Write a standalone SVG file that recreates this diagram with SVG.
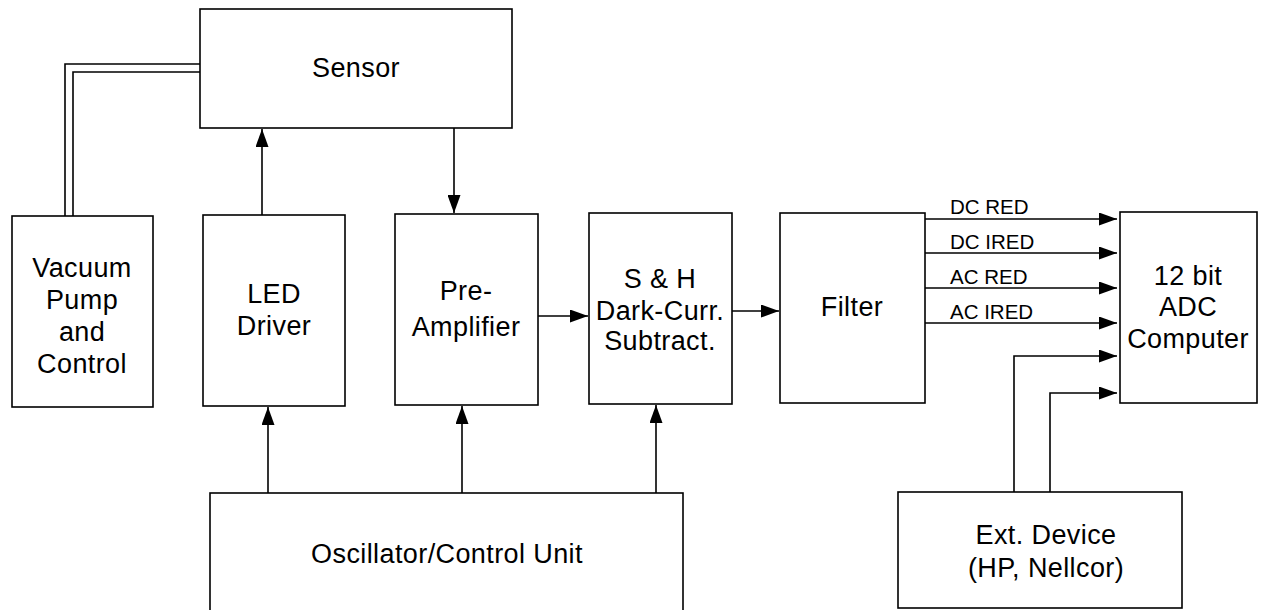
<svg xmlns="http://www.w3.org/2000/svg" width="1262" height="610" viewBox="0 0 1262 610">
<style>
.box{fill:#fff;stroke:#000;stroke-width:1.6}
.t{font-family:"Liberation Sans",Arial,sans-serif;font-size:27px;letter-spacing:0.4px;text-anchor:middle;fill:#000}
.s{font-family:"Liberation Sans",Arial,sans-serif;font-size:20.5px;fill:#000}
.ln{fill:none;stroke:#000;stroke-width:1.6}
.ar{fill:none;stroke:#000;stroke-width:1.6;marker-end:url(#ah)}
</style>
<defs>
<marker id="ah" markerUnits="userSpaceOnUse" markerWidth="18" markerHeight="13" refX="18" refY="6.5" orient="auto">
<path d="M0,0 L18,6.5 L0,13 z" fill="#000"/>
</marker>
</defs>
<rect width="1262" height="610" fill="#fff"/>
<g id="connectors">
<polyline class="ln" points="200,64 65,64 65,216"/>
<polyline class="ln" points="200,72 73,72 73,216"/>
<line class="ar" x1="262" y1="215" x2="262" y2="129"/>
<line class="ar" x1="454" y1="128" x2="454" y2="213"/>
<line class="ar" x1="538" y1="316" x2="588" y2="316"/>
<line class="ar" x1="732" y1="311" x2="779" y2="311"/>
<line class="ar" x1="268" y1="493" x2="268" y2="407"/>
<line class="ar" x1="462" y1="493" x2="462" y2="406"/>
<line class="ar" x1="656" y1="493" x2="656" y2="405"/>
<line class="ar" x1="925" y1="219" x2="1117" y2="219"/>
<line class="ar" x1="925" y1="253" x2="1117" y2="253"/>
<line class="ar" x1="925" y1="288" x2="1117" y2="288"/>
<line class="ar" x1="925" y1="323" x2="1117" y2="323"/>
<polyline class="ar" points="1014,492 1014,356 1117,356"/>
<polyline class="ar" points="1050,492 1050,393 1117,393"/>
<text class="s" x="950" y="214">DC RED</text>
<text class="s" x="950" y="249">DC IRED</text>
<text class="s" x="950" y="284">AC RED</text>
<text class="s" x="950" y="319">AC IRED</text>
</g>
<g id="sensor">
<rect class="box" x="200" y="9" width="312" height="119"/>
<text class="t" x="356" y="77">Sensor</text>
</g>
<g id="vacuum">
<rect class="box" x="12" y="216" width="141" height="191"/>
<text class="t" x="82" y="277">Vacuum</text>
<text class="t" x="82" y="309">Pump</text>
<text class="t" x="82" y="341">and</text>
<text class="t" x="82" y="373">Control</text>
</g>
<g id="led">
<rect class="box" x="203" y="215" width="142" height="191"/>
<text class="t" x="274" y="303">LED</text>
<text class="t" x="274" y="335">Driver</text>
</g>
<g id="preamp">
<rect class="box" x="395" y="214" width="143" height="191"/>
<text class="t" x="466" y="300">Pre-</text>
<text class="t" x="466" y="336">Amplifier</text>
</g>
<g id="sh">
<rect class="box" x="589" y="213" width="143" height="191"/>
<text class="t" x="660" y="288">S &amp; H</text>
<text class="t" x="660" y="320">Dark-Curr.</text>
<text class="t" x="660" y="350">Subtract.</text>
</g>
<g id="filter">
<rect class="box" x="780" y="213" width="145" height="190"/>
<text class="t" x="852" y="316">Filter</text>
</g>
<g id="adc">
<rect class="box" x="1120" y="212" width="137" height="191"/>
<text class="t" x="1188" y="285">12 bit</text>
<text class="t" x="1188" y="316">ADC</text>
<text class="t" x="1188" y="348">Computer</text>
</g>
<g id="oscillator">
<rect class="box" x="210" y="493" width="473" height="120"/>
<text class="t" x="447" y="563">Oscillator/Control Unit</text>
</g>
<g id="extdevice">
<rect class="box" x="898" y="492" width="284" height="116"/>
<text class="t" x="1046" y="544">Ext. Device</text>
<text class="t" x="1046" y="577">(HP, Nellcor)</text>
</g>
</svg>
